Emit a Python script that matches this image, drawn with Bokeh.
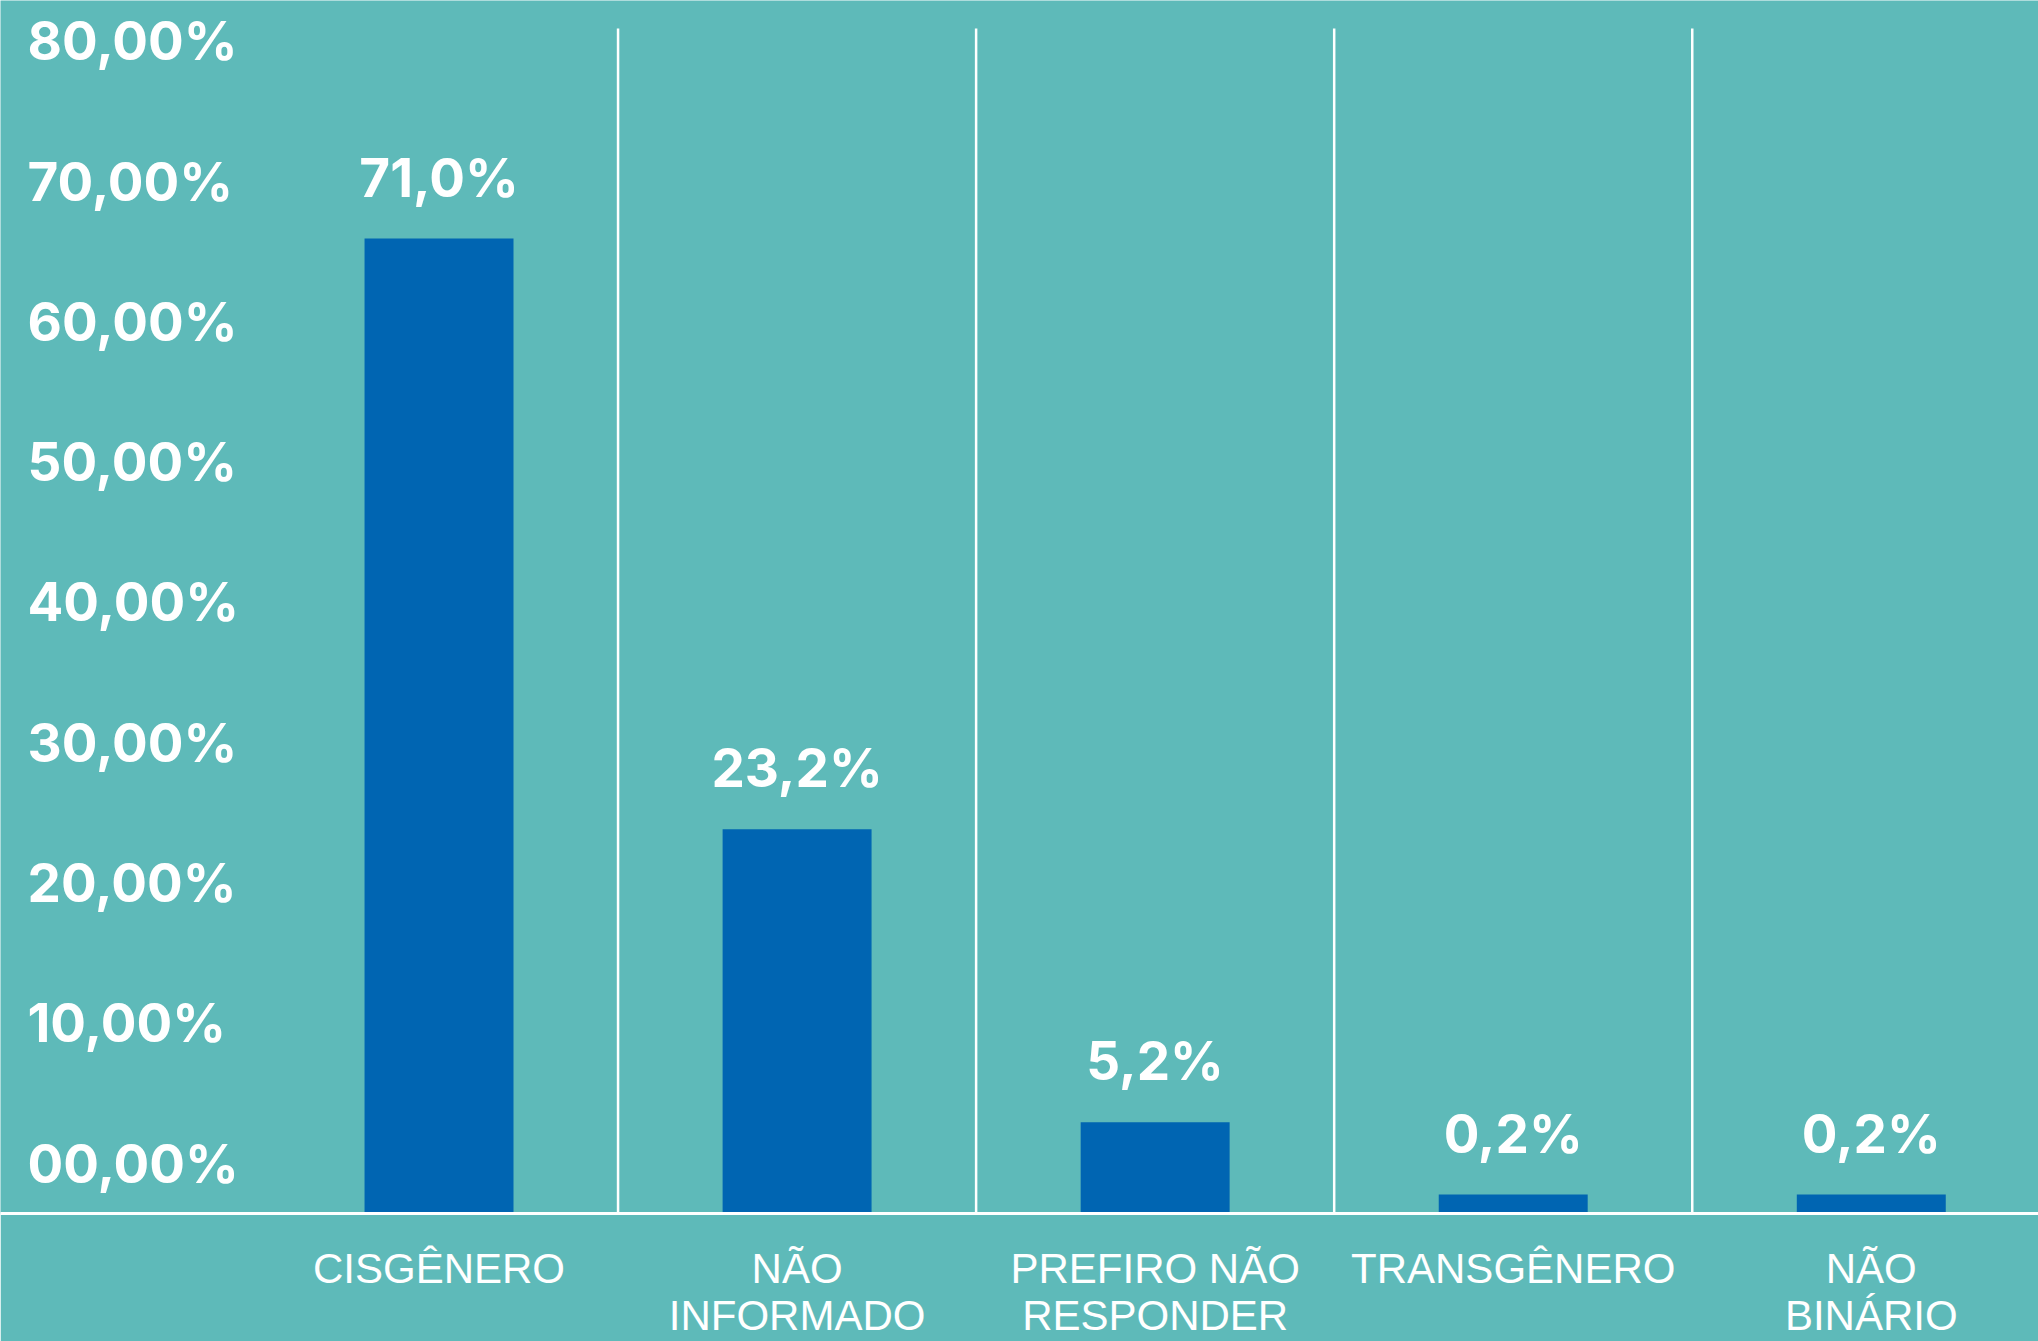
from bokeh.plotting import figure
from bokeh.models import ColumnDataSource, LabelSet, FixedTicker, Range1d
from bokeh.core.properties import value
from bokeh.embed import file_html
from bokeh.resources import INLINE

# ---- data ----
categories = ["CISGÊNERO", "NÃO\nINFORMADO", "PREFIRO NÃO\nRESPONDER", "TRANSGÊNERO", "NÃO\nBINÁRIO"]
bar_heights = [69.5, 27.4, 6.5, 1.35, 1.35]          # drawn bar heights (axis units, %)
value_labels = ["71,0%", "23,2%", "5,2%", "0,2%", "0,2%"]
y_ticks = [0, 10, 20, 30, 40, 50, 60, 70, 80]
y_tick_labels = ["00,00%", "10,00%", "20,00%", "30,00%", "40,00%",
                 "50,00%", "60,00%", "70,00%", "80,00%"]

# ---- style ----
BG = "#5EBAB9"
BAR = "#0065B2"
WHITE = "#FFFFFF"
NUM_FONT = "Inter"
CAT_FONT = "Liberation Sans"
SEP_TOP = 84.47      # height reached by the white separators (axis units)

idx = list(range(len(categories)))
x_start, x_end = -1.2247, 4.467

p = figure(width=2038, height=1341,
           x_range=Range1d(x_start, x_end), y_range=Range1d(0, 86.47),
           output_backend="svg", toolbar_location=None, y_axis_location=None,
           min_border_left=0, min_border_right=0, min_border_top=0, min_border_bottom=127)
p.background_fill_color = BG
p.border_fill_color = BG
p.outline_line_color = None
p.xgrid.visible = False
p.ygrid.visible = False

# separators between categories
sep_x = [i + 0.5 for i in idx[:-1]]
p.segment(x0=sep_x, y0=[0] * len(sep_x), x1=sep_x, y1=[SEP_TOP] * len(sep_x),
          line_color=WHITE, line_width=2.5)

src = ColumnDataSource(dict(x=idx, top=bar_heights, label=value_labels))
p.vbar(x="x", top="top", width=0.416, source=src, fill_color=BAR, line_color=None)

# x axis = white baseline with category labels
xa = p.xaxis[0]
xa.ticker = FixedTicker(ticks=idx)
xa.major_label_overrides = {i: c for i, c in enumerate(categories)}
xa.axis_line_color = WHITE
xa.axis_line_width = 3
xa.major_tick_line_color = None
xa.minor_tick_line_color = None
xa.major_label_standoff = 25
xa.major_label_text_font = CAT_FONT
xa.major_label_text_font_size = "42px"
xa.major_label_text_color = WHITE
xa.major_label_text_line_height = 1.0

# value labels above bars
p.add_layout(LabelSet(x="x", y="top", text="label", source=src,
                      text_align="center", text_baseline="alphabetic", y_offset=42,
                      text_font=value(NUM_FONT), text_font_style="bold",
                      text_font_size="53px", text_color=WHITE))

# y tick labels (left aligned, sitting above their value)
tsrc = ColumnDataSource(dict(x=[x_start] * len(y_ticks), y=y_ticks, t=y_tick_labels))
p.add_layout(LabelSet(x="x", y="y", text="t", source=tsrc,
                      text_align="left", text_baseline="alphabetic", y_offset=31, x_offset=27,
                      text_font=value(NUM_FONT), text_font_style="bold",
                      text_font_size="53px", text_color=WHITE))

open("out.html", "w").write(file_html(p, INLINE))
